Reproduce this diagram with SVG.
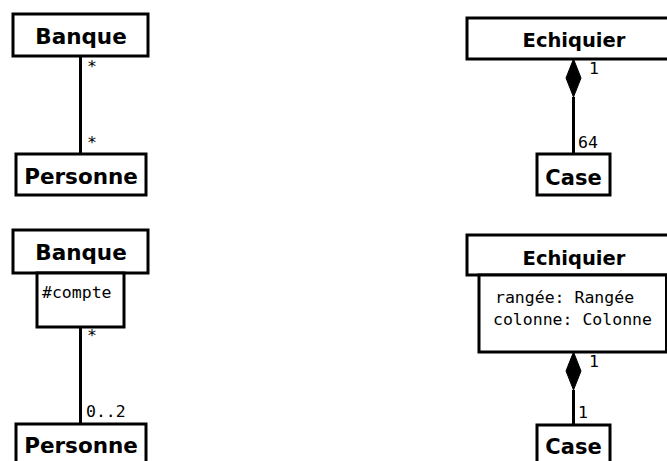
<svg xmlns="http://www.w3.org/2000/svg" width="667" height="461" viewBox="0 0 667 461">
<defs>
<style>
.box{fill:#fff;stroke:#000;stroke-width:3}
.t{font-family:"DejaVu Sans",sans-serif;font-weight:bold;font-size:21.5px;text-anchor:middle;fill:#000}
.e{font-size:19.5px}
.c{font-size:21px}
.m{font-family:"DejaVu Sans Mono",monospace;font-size:16.5px;fill:#000}
.ln{stroke:#000;stroke-width:3;fill:none}
.dia{fill:#000;stroke:#000;stroke-width:1}
</style>
</defs>
<rect width="667" height="461" fill="#fff"/>
<g id="connectors">
<line class="ln" x1="80.5" y1="56" x2="80.5" y2="154"/>
<line class="ln" x1="573.5" y1="97" x2="573.5" y2="154"/>
<polygon class="dia" points="573.5,59 581,78 573.5,97 566,78"/>
<line class="ln" x1="80.5" y1="327" x2="80.5" y2="424"/>
<line class="ln" x1="573.5" y1="390" x2="573.5" y2="425"/>
<polygon class="dia" points="573.5,352 581,371 573.5,390 566,371"/>
<text class="m" x="87" y="72">*</text>
<text class="m" x="87" y="148">*</text>
<text class="m" x="589" y="74">1</text>
<text class="m" x="578" y="148">64</text>
<text class="m" x="87" y="341">*</text>
<text class="m" x="86" y="417">0..2</text>
<text class="m" x="589" y="367">1</text>
<text class="m" x="578" y="418">1</text>
</g>
<g id="banque1">
<rect class="box" x="13" y="14" width="135" height="42"/>
<text class="t" x="81" y="44">Banque</text>
</g>
<g id="personne1">
<rect class="box" x="16" y="154" width="130" height="41"/>
<text class="t" x="81" y="184">Personne</text>
</g>
<g id="echiquier1">
<rect class="box" x="467" y="18" width="205" height="41"/>
<text class="t e" x="574" y="47">Echiquier</text>
</g>
<g id="case1">
<rect class="box" x="537" y="154" width="73" height="41"/>
<text class="t c" x="573.5" y="185">Case</text>
</g>
<g id="banque2">
<rect class="box" x="13" y="230" width="135" height="43"/>
<text class="t" x="81" y="260">Banque</text>
<rect class="box" x="37" y="273" width="87" height="54"/>
<text class="m" x="42" y="298">#compte</text>
</g>
<g id="personne2">
<rect class="box" x="16" y="424" width="130" height="45"/>
<text class="t" x="81" y="453">Personne</text>
</g>
<g id="echiquier2">
<rect class="box" x="467" y="235" width="205" height="40"/>
<text class="t e" x="574" y="265">Echiquier</text>
<rect class="box" x="479" y="275" width="187.5" height="77"/>
<text class="m" x="495" y="303">rangée: Rangée</text>
<text class="m" x="493" y="325">colonne: Colonne</text>
</g>
<g id="case2">
<rect class="box" x="537" y="425" width="73" height="45"/>
<text class="t c" x="573.5" y="454">Case</text>
</g>
</svg>
